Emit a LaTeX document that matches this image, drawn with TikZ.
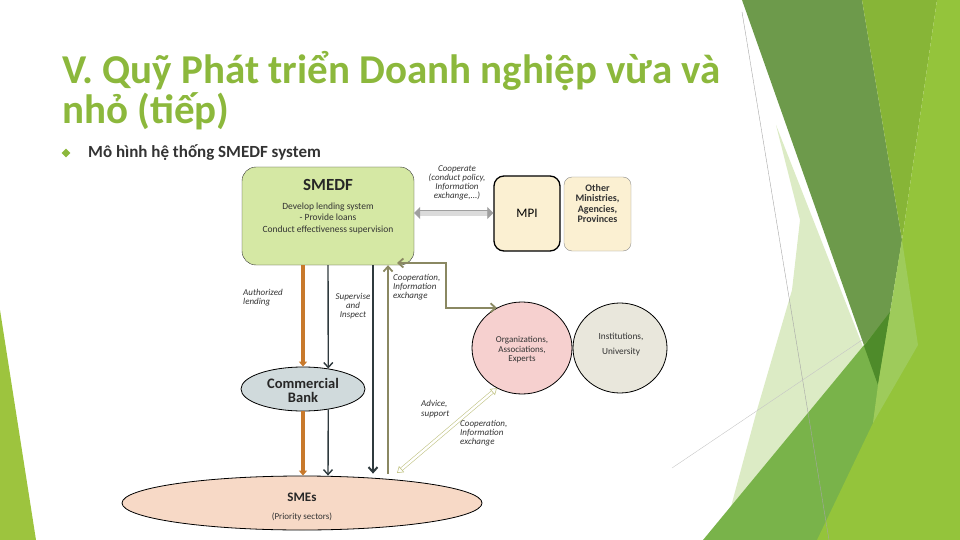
\documentclass[tikz,border=0pt]{standalone}
\usepackage{fontspec}
\setmainfont{Carlito}
\usetikzlibrary{arrows.meta,shapes.geometric}
\definecolor{titlegreen}{HTML}{8CB83C}
\definecolor{smedffill}{HTML}{D5E8A4}
\definecolor{mpifill}{HTML}{FBF0D2}
\definecolor{bankfill}{HTML}{D0DADC}
\definecolor{smesfill}{HTML}{F7D9C6}
\definecolor{orgfill}{HTML}{F6D0CF}
\definecolor{instfill}{HTML}{E9E7DC}
\definecolor{orangeln}{HTML}{C8792B}
\definecolor{darkln}{HTML}{2F3A3E}
\definecolor{oliveln}{HTML}{8A8862}
\definecolor{dblln}{HTML}{C2C486}
\definecolor{txt}{HTML}{333333}
\definecolor{gA}{HTML}{6D9A4B}
\definecolor{gB}{HTML}{87B537}
\definecolor{gC}{HTML}{94C43B}
\definecolor{gD}{HTML}{79B34A}
\definecolor{gE}{HTML}{DCEBC5}
\definecolor{gF}{HTML}{4E8B2A}
\definecolor{gG}{HTML}{9ECB5B}
\definecolor{gL}{HTML}{9DC43E}
\tikzset{
  rbox/.style={draw=txt, rounded corners=14pt, inner sep=0pt},
  ell/.style={ellipse, draw=black, line width=0.8pt, inner sep=0pt},
  lbl/.style={font=\fontsize{9}{9.2}\selectfont\itshape, text=txt, inner sep=0pt},
  orangearr/.style={draw=orangeln, line width=4pt, -{Triangle[length=5pt,width=8pt]}},
  darkarr/.style={draw=darkln, line width=1.4pt, -{Straight Barb[length=5pt,width=9pt]}},
  olivearr/.style={draw=oliveln, line width=1.8pt},
}
\begin{document}
\begin{tikzpicture}[x=1pt,y=-1pt]
\useasboundingbox (0,0) rectangle (960,540);
% background decorations
\fill[gL] (0,310) -- (36,540) -- (0,540) -- cycle;
\fill[gE] (776,125) -- (880,390) -- (722,540) -- (757,410) -- (792,290) -- (800,220) -- cycle;
\fill[gA] (742,0) -- (862,0) -- (902,240) -- (878,385) -- cycle;
\fill[gB] (862,0) -- (937,0) -- (902,240) -- cycle;
\fill[gD] (703,540) -- (893,310) -- (960,250) -- (960,540) -- cycle;
\fill[gF] (864,346) -- (890,312) -- (878,385) -- cycle;
\fill[gC] (937,0) -- (960,0) -- (960,540) -- (817,540) -- (873,423) -- (902,240) -- cycle;
\fill[gG] (902,240) -- (918,345) -- (873,423) -- (878,385) -- cycle;
\draw[gray!70, line width=0.4pt] (742,12) -- (829,540);
\draw[gray!45, line width=0.4pt] (672,468) -- (862,340);
% title
\node[anchor=base west, inner sep=0pt, text=titlegreen, font=\bfseries\fontsize{41}{41}\selectfont] (title1) at (62,84) {V. Quỹ Phát triển Doanh nghiệp vừa và};
\node[anchor=base west, inner sep=0pt, text=titlegreen, font=\bfseries\fontsize{41}{41}\selectfont] (title2) at (62,124) {nhỏ (tiếp)};
\node[diamond, fill=titlegreen, minimum size=9pt, inner sep=0pt] (bul) at (66,153) {};
\node[anchor=base west, inner sep=0pt, text=black!80, font=\bfseries\fontsize{17}{17}\selectfont] (sub) at (88,158) {Mô hình hệ thống SMEDF system};
% boxes
\node[rbox, fill=smedffill, minimum width=172pt, minimum height=98pt] (smedf) at (328,216) {};
\node[font=\bfseries\fontsize{17}{18}\selectfont, text=black!85] (smedft) at (328,185) {SMEDF};
\node[font=\fontsize{9.5}{11.5}\selectfont, align=center, text=txt] (smedfd) at (328,218) {Develop lending system\\- Provide loans\\Conduct effectiveness supervision};
\node[draw=black, line width=1.3pt, rounded corners=10pt, fill=mpifill, minimum width=66pt, minimum height=75pt, inner sep=0pt, font=\fontsize{13}{14}\selectfont] (mpi) at (527,213.5) {MPI};
\node[draw=black!45, rounded corners=8pt, fill=mpifill, minimum width=67pt, minimum height=74pt, inner sep=0pt] (other) at (597.5,214) {};
\node[font=\bfseries\fontsize{10}{10.3}\selectfont, align=center, text=txt] (othert) at (597.5,203.5) {Other\\Ministries,\\Agencies,\\Provinces};
\node[ell, fill=bankfill, minimum width=124pt, minimum height=44pt] (bank) at (303,389) {};
\node[font=\bfseries\fontsize{14.5}{14}\selectfont, align=center, text=black!85] (bankt) at (303,390) {Commercial\\Bank};
\node[ell, fill=smesfill, minimum width=360pt, minimum height=54pt] (smes) at (302,503) {};
\node[font=\bfseries\fontsize{13}{14}\selectfont, text=black!85] (smest) at (302,497) {SMEs};
\node[font=\fontsize{9}{9}\selectfont, text=txt] (smess) at (302,517) {(Priority sectors)};
\node[ell, fill=orgfill, minimum width=100pt, minimum height=92pt] (org) at (522,348) {};
\node[font=\fontsize{9}{9.5}\selectfont, align=center, text=txt] (orgt) at (522,350) {Organizations,\\Associations,\\Experts};
\node[ell, fill=instfill, minimum width=94pt, minimum height=90pt] (inst) at (620,348) {};
\node[font=\fontsize{9.3}{15}\selectfont, align=center, text=txt] (instt) at (621,345) {Institutions,\\University};
% coordinates
\coordinate (gy) at (0,213);
\coordinate (xb) at (328,0);
\coordinate (xc) at (373,0);
\coordinate (xd) at (388,0);
\coordinate (corner) at (397,263);
\coordinate (elb) at (446,263);
\coordinate (dl) at (397,473);
% connectors
\draw[draw=gray!75, line width=0.6pt, double=gray!28, double distance=5pt, {Triangle[length=6pt,width=12pt]}-{Triangle[length=6pt,width=12pt]}] (smedf.east |- gy) -- (mpi.west |- gy);
\draw[orangearr] (smedf.south -| bank) -- (bank.north);
\draw[orangearr] (bank.south) -- (bank.south |- smes.north);
\draw[darkarr] (smedf.south -| xb) -- (bank.39);
\draw[darkarr] (bank.-39) -- (xb |- smes.north);
\draw[darkarr, line width=2pt] (smedf.south -| xc) -- ([yshift=2pt]xc |- smes.north);
\draw[olivearr, -{Straight Barb[length=5pt,width=9pt]}] ([yshift=2pt]xd |- smes.north) -- (smedf.south -| xd);
\draw[olivearr, {Straight Barb[length=5pt,width=9pt]}-{Straight Barb[length=5pt,width=9pt]}] (corner) -- (elb) |- (org.122);
\draw[draw=dblln, line width=0.6pt, double=white, double distance=2.4pt, {Triangle[open,length=6pt,width=8pt]}-{Triangle[open,length=6pt,width=8pt]}] (dl) -- (org.238);
% labels
\node[lbl, align=center] (lcoop) at (457,183) {Cooperate\\(conduct policy,\\Information\\exchange,...)};
\node[lbl, align=left, anchor=west] (lauth) at (243,297.5) {Authorized\\lending};
\node[lbl, align=center] (lsup) at (353,306) {Supervise\\and\\Inspect};
\node[lbl, align=left, anchor=west] (lcoop2) at (393,287) {Cooperation,\\Information\\exchange};
\node[lbl, align=left, anchor=west] (ladv) at (421,409) {Advice,\\support};
\node[lbl, align=left, anchor=west] (lcoop3) at (460,433) {Cooperation,\\Information\\exchange};
\end{tikzpicture}
\end{document}
